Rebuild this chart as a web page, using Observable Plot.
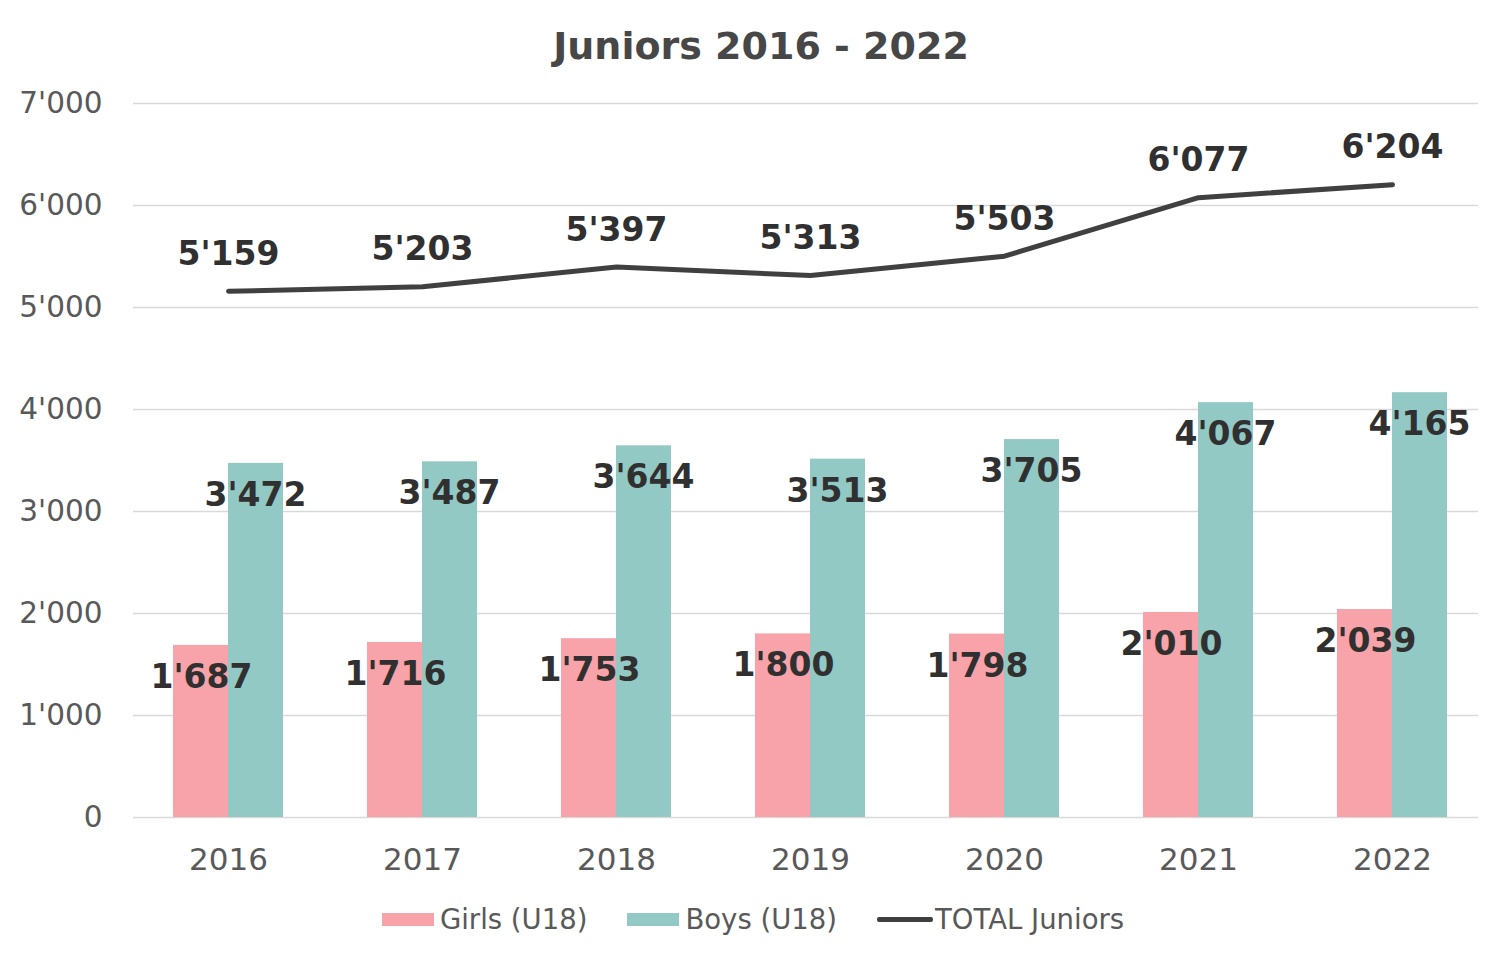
<!DOCTYPE html>
<html>
<head>
<meta charset="utf-8">
<script src="https://cdn.jsdelivr.net/npm/d3@7"></script>
<script src="https://cdn.jsdelivr.net/npm/@observablehq/plot@0.6"></script>
<style>
  html, body { margin: 0; padding: 0; background: #fff; width: 1506px; height: 955px; overflow: hidden; font-family: "DejaVu Sans", Verdana, sans-serif; }
  #title { height: 85px; box-sizing: border-box; padding-top: 23px; text-align: center; font-weight: bold; font-size: 38px; color: #474747; line-height: 46px; padding-left: 16px; }
  #legend { display: flex; justify-content: center; align-items: center; padding-top: 26px; font-size: 27.5px; color: #595959; padding-left: 0px; }
  .item { display: flex; align-items: center; margin: 0 20px; }
  .sw { width: 52px; height: 13px; margin-right: 6px; }
  .ln { width: 56px; height: 5px; background: #404040; margin-right: 2px; border-radius: 2px; }
</style>
</head>
<body>
<div id="title">Juniors 2016 - 2022</div>
<div id="chart"></div>
<div id="legend"></div>
<script>
const years = ["2016", "2017", "2018", "2019", "2020", "2021", "2022"];
const girls = [1687, 1716, 1753, 1800, 1798, 2010, 2039];
const boys = [3472, 3487, 3644, 3513, 3705, 4067, 4165];
const total = [5159, 5203, 5397, 5313, 5503, 6077, 6204];
const yTicks = [0, 1000, 2000, 3000, 4000, 5000, 6000, 7000];
const seriesNames = ["Girls (U18)", "Boys (U18)", "TOTAL Juniors"];
const colors = ["#f7a3a9", "#93c9c4", "#404040"];

const fmt = v => d3.format(",")(v).replace(/,/g, "'");

const rows = years.map((y, i) => ({year: y, girls: girls[i], boys: boys[i], total: total[i]}));

const plot = Plot.plot({
  width: 1506,
  height: 792,
  marginLeft: 131,
  marginRight: 17,
  marginTop: 18,
  marginBottom: 60,
  style: { fontFamily: "DejaVu Sans, Verdana, sans-serif", background: "transparent" },
  x: { domain: years, padding: 0, label: null },
  y: { domain: [0, 7000], label: null },
  marks: [
    Plot.ruleY(yTicks, { stroke: "#d9d9d9", strokeWidth: 1.5, insetLeft: 2, insetRight: 11 }),
    Plot.axisY(yTicks, { tickFormat: fmt, tickSize: 0, tickPadding: 0, dx: -29, fontSize: 29.5, fill: "#595959", label: null }),
    Plot.axisX({ tickSize: 0, tickPadding: 30, fontSize: 31, fill: "#595959", label: null }),
    Plot.barY(rows, { x: "year", y: "girls", fill: colors[0], insetLeft: 42, insetRight: 97 }),
    Plot.barY(rows, { x: "year", y: "boys", fill: colors[1], insetLeft: 97, insetRight: 42 }),
    Plot.line(rows, { x: "year", y: "total", stroke: colors[2], strokeWidth: 5, curve: "linear", strokeLinejoin: "round", strokeLinecap: "round" }),
    Plot.text(rows, { x: "year", y: "girls", text: d => fmt(d.girls), dx: -27, dy: 32, fontSize: 33, fontWeight: "bold", fill: "#303030" }),
    Plot.text(rows, { x: "year", y: "boys", text: d => fmt(d.boys), dx: 27, dy: 32, fontSize: 33, fontWeight: "bold", fill: "#303030" }),
    Plot.text(rows, { x: "year", y: "total", text: d => fmt(d.total), dy: -37, fontSize: 33, fontWeight: "bold", fill: "#303030" })
  ]
});
document.getElementById("chart").appendChild(plot);

const legend = document.getElementById("legend");
seriesNames.forEach((name, i) => {
  const item = document.createElement("div");
  item.className = "item";
  const sw = document.createElement("div");
  if (i < 2) { sw.className = "sw"; sw.style.background = colors[i]; }
  else { sw.className = "ln"; }
  item.appendChild(sw);
  const t = document.createElement("span");
  t.textContent = name;
  item.appendChild(t);
  legend.appendChild(item);
});
</script>
</body>
</html>
